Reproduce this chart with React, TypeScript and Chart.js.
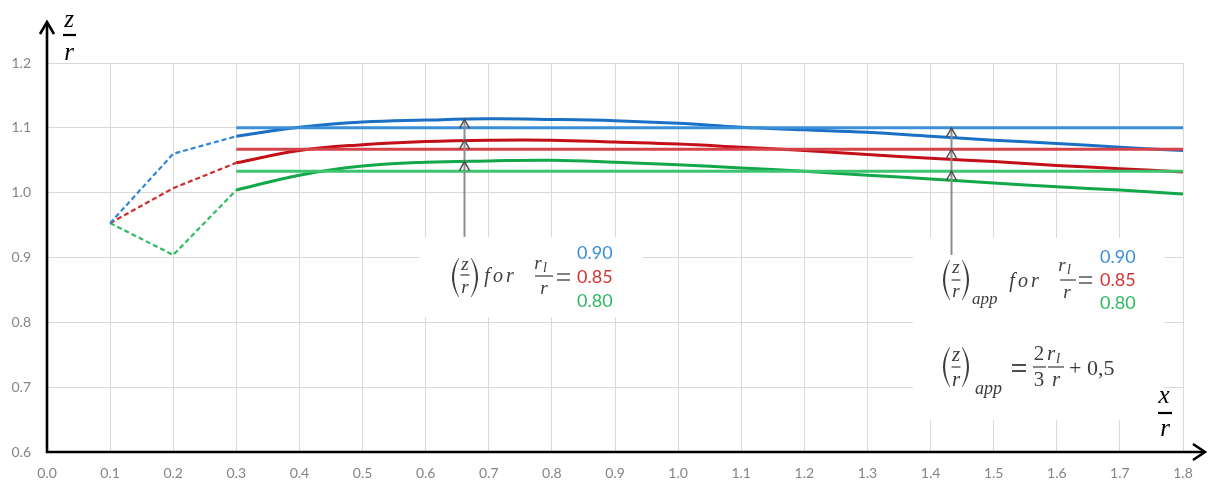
import React, { useEffect, useRef } from "react";
import { Chart, registerables } from "chart.js";

Chart.register(...registerables);

// ---- data ----
const xLead = [0.1, 0.2, 0.3];
const xCurve = [0.3, 0.4, 0.5, 0.6, 0.7, 0.8, 0.9, 1.0, 1.1, 1.2, 1.3, 1.4, 1.5, 1.6, 1.7, 1.8];
const xFlat = [0.3, 1.8];

const blueLead = [0.953, 1.06, 1.087];
const redLead = [0.953, 1.007, 1.046];
const greenLead = [0.953, 0.904, 1.004];

const blueCurve = [1.087, 1.101, 1.109, 1.112, 1.114, 1.113, 1.111, 1.107, 1.101, 1.097, 1.093, 1.087, 1.081, 1.076, 1.07, 1.065];
const redCurve = [1.046, 1.065, 1.074, 1.079, 1.081, 1.081, 1.078, 1.075, 1.07, 1.065, 1.059, 1.053, 1.048, 1.042, 1.037, 1.032];
const greenCurve = [1.004, 1.027, 1.041, 1.047, 1.049, 1.05, 1.047, 1.043, 1.038, 1.033, 1.027, 1.021, 1.015, 1.009, 1.004, 0.998];

const ratioLabels = ["0.90", "0.85", "0.80"];
const flatValues = [1.1, 1.067, 1.033];

const arrowX = [0.66, 1.433];
const arrowBase = [0.932, 0.904];
const arrowCurveTargets = [1.113, 1.081, 1.048];

const xMin = 0, xMax = 1.8, xStep = 0.1;
const yMin = 0.6, yMax = 1.2, yStep = 0.1;

// ---- styles ----
const curveColors = ["#1a70c4", "#c40f18", "#12a84a"];
const flatColors = ["#3a8fda", "#d6434a", "#3cc470"];
const leadColors = ["#2f86d6", "#d02c2c", "#2ebd63"];
const labelColors = ["#3a8fd8", "#d43333", "#2fb862"];
const mathColor = "#3c3c3c";

const pts = (xs: number[], ys: number[]) => xs.map((x, i) => ({ x, y: ys[i] }));

function paren(ctx: CanvasRenderingContext2D, x: number, top: number, bottom: number, w: number, left: boolean) {
  const mid = (top + bottom) / 2;
  ctx.beginPath();
  if (left) {
    ctx.moveTo(x + w, top);
    ctx.quadraticCurveTo(x - w, mid, x + w, bottom);
    ctx.lineTo(x + w + 0.6, bottom);
    ctx.quadraticCurveTo(x + 3.6 - w, mid, x + w + 0.6, top);
  } else {
    ctx.moveTo(x - w, top);
    ctx.quadraticCurveTo(x + w, mid, x - w, bottom);
    ctx.lineTo(x - w - 0.6, bottom);
    ctx.quadraticCurveTo(x - 3.6 + w, mid, x - w - 0.6, top);
  }
  ctx.closePath();
  ctx.fill();
}

function txt(ctx: CanvasRenderingContext2D, s: string, x: number, y: number, font: string, color: string, align: CanvasTextAlign = "center") {
  ctx.font = font;
  ctx.fillStyle = color;
  ctx.textAlign = align;
  ctx.textBaseline = "middle";
  ctx.fillText(s, x, y);
}

function hline(ctx: CanvasRenderingContext2D, x1: number, x2: number, y: number, w: number, color: string) {
  ctx.beginPath();
  ctx.strokeStyle = color;
  ctx.lineWidth = w;
  ctx.moveTo(x1, y);
  ctx.lineTo(x2, y);
  ctx.stroke();
}

function rl(ctx: CanvasRenderingContext2D, cx: number, y: number, size: number) {
  txt(ctx, "r", cx - 3, y, `italic ${size}px 'Liberation Serif'`, mathColor);
  txt(ctx, "l", cx + 4, y + size * 0.22, `italic ${Math.round(size * 0.72)}px 'Liberation Serif'`, mathColor);
}

function zr(ctx: CanvasRenderingContext2D, xl: number, top: number, bottom: number, zY: number, barY: number, rY: number, size: number) {
  ctx.fillStyle = mathColor;
  paren(ctx, xl, top, bottom, 6.5, true);
  const cx = xl + 13;
  txt(ctx, "z", cx, zY, `italic ${size}px 'Liberation Serif'`, mathColor);
  hline(ctx, cx - 4.5, cx + 4.5, barY, 1.2, mathColor);
  txt(ctx, "r", cx, rY, `italic ${size}px 'Liberation Serif'`, mathColor);
  ctx.fillStyle = mathColor;
  paren(ctx, xl + 26, top, bottom, 6.5, false);
}

function forText(ctx: CanvasRenderingContext2D, x: number, y: number, size: number) {
  const f = `italic ${size}px 'Liberation Serif'`;
  txt(ctx, "f", x + 4, y, f, mathColor);
  txt(ctx, "o", x + 15, y, f, mathColor);
  txt(ctx, "r", x + 27, y, f, mathColor);
}

function eq(ctx: CanvasRenderingContext2D, x1: number, x2: number, y: number, w: number) {
  hline(ctx, x1, x2, y - 3, w, mathColor);
  hline(ctx, x1, x2, y + 3, w, mathColor);
}

const overlay = {
  id: "overlay",
  beforeDatasetsDraw(chart: any) {
    const ctx = chart.ctx as CanvasRenderingContext2D;
    ctx.save();
    ctx.fillStyle = "#ffffff";
    ctx.fillRect(420, 237, 223, 80);
    ctx.fillRect(913, 238, 251, 182);
    ctx.restore();
  },
  afterDraw(chart: any) {
    const ctx = chart.ctx as CanvasRenderingContext2D;
    const xs = chart.scales.x;
    const ys = chart.scales.y;
    const area = chart.chartArea;
    ctx.save();

    // annotation arrows
    arrowX.forEach((ax, i) => {
      const targets = i === 0 ? arrowCurveTargets : flatValues;
      const px = Math.round(xs.getPixelForValue(ax)) + 0.5;
      const topY = ys.getPixelForValue(Math.max(...targets));
      const baseY = ys.getPixelForValue(arrowBase[i]);
      ctx.beginPath();
      ctx.strokeStyle = "#8c8c8c";
      ctx.lineWidth = 2;
      ctx.moveTo(px, baseY);
      ctx.lineTo(px, topY);
      ctx.stroke();
      targets.forEach((t) => {
        const ty = ys.getPixelForValue(t);
        ctx.beginPath();
        ctx.strokeStyle = "#4a4a4a";
        ctx.lineWidth = 1.4;
        ctx.moveTo(px - 5, ty + 9);
        ctx.lineTo(px, ty);
        ctx.lineTo(px + 5, ty + 9);
        ctx.stroke();
      });
    });

    // main axes with arrowheads
    ctx.strokeStyle = "#000";
    ctx.lineWidth = 2.6;
    ctx.lineJoin = "miter";
    ctx.beginPath();
    ctx.moveTo(area.left, area.bottom + 1);
    ctx.lineTo(area.left, 22);
    ctx.stroke();
    ctx.beginPath();
    ctx.moveTo(area.left - 7, 34);
    ctx.lineTo(area.left, 22);
    ctx.lineTo(area.left + 7, 34);
    ctx.stroke();
    ctx.beginPath();
    ctx.moveTo(area.left - 1, area.bottom);
    ctx.lineTo(1205, area.bottom);
    ctx.stroke();
    ctx.beginPath();
    ctx.moveTo(1193, area.bottom - 8);
    ctx.lineTo(1205, area.bottom);
    ctx.lineTo(1193, area.bottom + 8);
    ctx.stroke();

    // axis titles
    const big = "italic 25px 'Liberation Serif'";
    txt(ctx, "z", 69, 20, big, "#000");
    hline(ctx, 63, 76, 35, 2.2, "#000");
    txt(ctx, "r", 69, 53, big, "#000");
    txt(ctx, "x", 1164, 396, big, "#000");
    hline(ctx, 1158, 1172, 413, 2.2, "#000");
    txt(ctx, "r", 1165, 429, big, "#000");

    // box 1
    zr(ctx, 452, 258, 297, 265, 275, 288, 19);
    forText(ctx, 483, 277, 20);
    rl(ctx, 541, 264, 19);
    hline(ctx, 535, 553, 276, 1.2, mathColor);
    txt(ctx, "r", 544, 289, "italic 19px 'Liberation Serif'", mathColor);
    eq(ctx, 557, 570, 277, 1.3);
    ratioLabels.forEach((s, i) => txt(ctx, s, 577, 253 + i * 24, "18px Lato", labelColors[i], "left"));

    // box 2
    zr(ctx, 943, 260, 300, 268, 280, 292, 19);
    txt(ctx, "app", 972, 300, "italic 17px 'Liberation Serif'", mathColor, "left");
    forText(ctx, 1008, 282, 20);
    rl(ctx, 1065, 266, 19);
    hline(ctx, 1060, 1076, 280, 1.2, mathColor);
    txt(ctx, "r", 1067, 293, "italic 19px 'Liberation Serif'", mathColor);
    eq(ctx, 1079, 1092, 280, 1.3);
    ratioLabels.forEach((s, i) => txt(ctx, s, 1100, 257 + i * 23, "18px Lato", labelColors[i], "left"));

    // formula
    zr(ctx, 943, 347, 387, 355, 367, 380, 21);
    txt(ctx, "app", 975, 389, "italic 18px 'Liberation Serif'", mathColor, "left");
    eq(ctx, 1012, 1026, 368, 1.8);
    txt(ctx, "2", 1039, 354, "21px 'Liberation Serif'", mathColor);
    hline(ctx, 1033, 1046, 367, 1.2, mathColor);
    txt(ctx, "3", 1039, 380, "21px 'Liberation Serif'", mathColor);
    rl(ctx, 1054, 354, 21);
    hline(ctx, 1048, 1064, 367, 1.2, mathColor);
    txt(ctx, "r", 1056, 380, "italic 21px 'Liberation Serif'", mathColor);
    txt(ctx, "+ 0,5", 1069, 369, "22px 'Liberation Serif'", mathColor, "left");

    ctx.restore();
  },
};

export default function App() {
  const ref = useRef<HTMLCanvasElement>(null);
  useEffect(() => {
    if (!ref.current) return;
    const lead = [blueLead, redLead, greenLead];
    const curves = [blueCurve, redCurve, greenCurve];
    const datasets: any[] = [];
    flatValues.forEach((v, i) =>
      datasets.push({
        data: pts(xFlat, [v, v]),
        borderColor: flatColors[i],
        borderWidth: 3,
        pointRadius: 0,
        tension: 0,
      })
    );
    lead.forEach((d, i) =>
      datasets.push({
        data: pts(xLead, d),
        borderColor: leadColors[i],
        borderWidth: 2.2,
        borderDash: [5, 3],
        pointRadius: 0,
        tension: 0,
      })
    );
    curves.forEach((d, i) =>
      datasets.push({
        data: pts(xCurve, d),
        borderColor: curveColors[i],
        borderWidth: 3,
        pointRadius: 0,
        tension: 0.4,
      })
    );
    const chart = new Chart(ref.current, {
      type: "line",
      data: { datasets },
      options: {
        animation: false,
        responsive: false,
        layout: { padding: { left: 0, top: 63, right: 25, bottom: 0 } },
        plugins: { legend: { display: false }, tooltip: { enabled: false } },
        scales: {
          x: {
            type: "linear",
            min: xMin,
            max: xMax,
            afterFit: (s: any) => { s.height = 32; },
            border: { display: false },
            grid: { color: "#d9d9d9", lineWidth: 1, drawTicks: false },
            ticks: {
              stepSize: xStep,
              maxTicksLimit: 100,
              autoSkip: false,
              maxRotation: 0,
              padding: 13,
              color: "#858585",
              font: { family: "Lato", size: 14 },
              callback: (v: any) => Number(v).toFixed(1),
            },
          },
          y: {
            type: "linear",
            min: yMin,
            max: yMax,
            afterFit: (s: any) => { s.width = 47; },
            border: { display: false },
            grid: { color: "#d9d9d9", lineWidth: 1, drawTicks: false },
            ticks: {
              stepSize: yStep,
              maxTicksLimit: 100,
              padding: 16,
              color: "#858585",
              font: { family: "Lato", size: 14 },
              callback: (v: any) => Number(v).toFixed(1),
            },
          },
        },
      },
      plugins: [overlay],
    });
    return () => chart.destroy();
  }, []);
  return (
    <div style={{ position: "fixed", left: 0, top: 0, width: 1208, height: 484, background: "#fff" }}>
      <canvas ref={ref} width={1208} height={484} style={{ display: "block" }} />
    </div>
  );
}
